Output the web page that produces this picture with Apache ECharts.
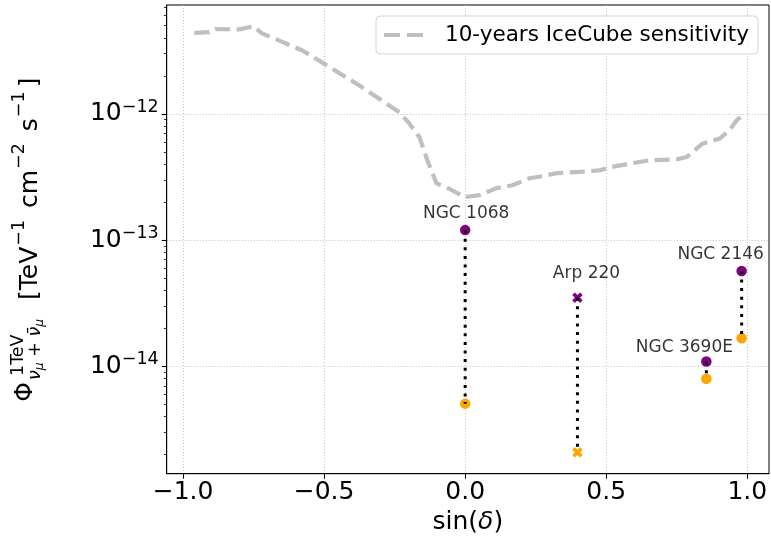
<!DOCTYPE html>
<html><head><meta charset="utf-8">
<script src="https://cdn.jsdelivr.net/npm/echarts@6/dist/echarts.min.js"></script>
<style>html,body{margin:0;padding:0;background:#fff}#c{width:771px;height:541px}</style>
</head><body><div id="c"></div>
<script>
// ---- data ----
const curveSinDec = [-0.960,-0.907,-0.885,-0.800,-0.751,-0.722,-0.659,-0.577,-0.499,-0.375,-0.233,-0.198,-0.162,-0.134,-0.102,-0.066,-0.002,0.051,0.111,0.168,0.228,0.274,0.324,0.405,0.476,0.512,0.583,0.654,0.749,0.785,0.841,0.902,0.937,0.962,0.976];
const curveFlux = [4.39e-12,4.45e-12,4.70e-12,4.68e-12,4.94e-12,4.37e-12,3.81e-12,3.18e-12,2.49e-12,1.68e-12,1.03e-12,8.41e-13,6.52e-13,4.29e-13,2.82e-13,2.62e-13,2.19e-13,2.27e-13,2.58e-13,2.72e-13,3.09e-13,3.21e-13,3.39e-13,3.47e-13,3.57e-13,3.77e-13,4.04e-13,4.29e-13,4.36e-13,4.55e-13,5.81e-13,6.37e-13,7.41e-13,8.88e-13,9.44e-13];
const sourceNames = ['NGC 1068','Arp 220','NGC 3690E','NGC 2146'];
const sourceSinDec = [0.0, 0.398, 0.855, 0.980];
const fluxUpper = [1.2e-13, 3.5e-14, 1.09e-14, 5.7e-14];
const fluxLower = [5.06e-15, 2.08e-15, 7.96e-15, 1.67e-14];
const xTickValues = [-1.0, -0.5, 0.0, 0.5, 1.0];
const yTickValues = [1e-14, 1e-13, 1e-12];
const legendLabel = '10-years IceCube sensitivity';

// ---- styling / layout ----
const FONT = 'DejaVu Sans';
const xMin = -1.058, xMax = 1.077;
const yMin = Math.pow(10, -14.851), yMax = Math.pow(10, -11.137);
const labelOffsets = {'NGC 1068':[1,-17], 'Arp 220':[9,-24], 'NGC 3690E':[-22,-14], 'NGC 2146':[-21,-16]};
const X_PATH = 'path://M-1,-0.5 L-0.5,-1 L0,-0.5 L0.5,-1 L1,-0.5 L0.5,0 L1,0.5 L0.5,1 L0,0.5 L-0.5,1 L-1,0.5 L-0.5,0 Z';
const markerOf = {'Arp 220': X_PATH};

const minorTicks = [];
for (let e = -15; e <= -12; e++) for (let m = 2; m <= 9; m++) {
  const v = m * Math.pow(10, e);
  if (v > yMin && v < yMax) minorTicks.push(v);
}

const series = [{
  name: legendLabel, type: 'line', symbol: 'none', z: 2,
  data: curveSinDec.map((x, i) => [x, curveFlux[i]]),
  lineStyle: {color: '#bfbfbf', width: 4.2, type: [15, 6.5], cap: 'butt'},
  itemStyle: {color: '#bfbfbf'}
}];
sourceNames.forEach((n, i) => {
  series.push({
    type: 'line', symbol: 'none', z: 5, silent: true,
    data: [[sourceSinDec[i], fluxUpper[i]], [sourceSinDec[i], fluxLower[i]]],
    lineStyle: {color: '#000', width: 3, type: [3, 5.6], cap: 'butt'}
  });
});
const mkPts = vals => sourceNames.map((n, i) => ({
  name: n, value: [sourceSinDec[i], vals[i]], symbol: markerOf[n] || 'circle'
}));
series.push({type: 'scatter', z: 3, symbolSize: 10.5, itemStyle: {color: '#800080', opacity: 1}, data: mkPts(fluxUpper)});
series.push({type: 'scatter', z: 3, symbolSize: 10.5, itemStyle: {color: '#ffa500', opacity: 1}, data: mkPts(fluxLower)});
// text labels of the sources
series.push({
  type: 'scatter', z: 6, symbol: 'circle', symbolSize: 1, silent: true,
  itemStyle: {color: 'rgba(0,0,0,0)'},
  data: sourceNames.map((n, i) => ({
    name: n, value: [sourceSinDec[i], fluxUpper[i]],
    label: {show: true, position: 'inside', offset: labelOffsets[n], formatter: '{b}',
      color: '#000', fontFamily: FONT, fontSize: 17}
  }))
});

const gridLine = {show: true, lineStyle: {color: '#b0b0b0', width: 0.8, type: [1, 2]}};

const option = {
  animation: false,
  backgroundColor: '#fff',
  grid: {left: 166.7, top: 5, right: 2, bottom: 67.3, show: true, borderColor: '#000', borderWidth: 1, backgroundColor: 'transparent'},
  legend: {
    data: [{name: legendLabel, icon: 'path://M0,0 H16 V4 H0 Z M23,0 H39 V4 H23 Z'}],
    left: 376, top: 16, orient: 'vertical',
    itemWidth: 39, itemHeight: 4.2, padding: [8, 9, 8, 8],
    borderColor: '#d5d5d5', borderWidth: 1, borderRadius: 4, backgroundColor: 'rgba(255,255,255,0.8)',
    itemStyle: {color: '#bfbfbf'},
    textStyle: {fontFamily: FONT, fontSize: 21.5, color: '#000', padding: [0, 0, 0, 17]}
  },
  xAxis: {
    type: 'value', min: xMin, max: xMax,
    axisLine: {show: true, onZero: false, lineStyle: {color: '#000', width: 1}},
    axisTick: {show: true, length: 5, lineStyle: {color: '#000', width: 1.1}, customValues: xTickValues},
    axisLabel: {customValues: xTickValues, margin: 6, color: '#000', fontFamily: FONT, fontSize: 25,
      formatter: v => v.toFixed(1).replace('-', '\u2212')},
    splitLine: gridLine,
    name: '{n|sin(}{i|δ}{n|)}', nameLocation: 'middle', nameGap: 34,
    nameTextStyle: {rich: {n: {fontFamily: FONT, fontSize: 25, color: '#000'}, i: {fontFamily: FONT, fontStyle: 'italic', fontSize: 25, color: '#000'}}}
  },
  yAxis: [{
    type: 'log', logBase: 10, min: yMin, max: yMax,
    axisLine: {show: true, onZero: false, lineStyle: {color: '#000', width: 1}},
    axisTick: {show: true, length: 5, lineStyle: {color: '#000', width: 1.1}, customValues: yTickValues},
    axisLabel: {customValues: yTickValues, margin: 8, color: '#000',
      formatter: v => '{b|10}{s|\u2212' + Math.abs(Math.round(Math.log10(v))) + '}',
      rich: {b: {fontFamily: FONT, fontSize: 25, lineHeight: 31, color: '#000'},
             s: {fontFamily: FONT, fontSize: 17.5, lineHeight: 17.5, verticalAlign: 'top', color: '#000'}}},
    splitLine: gridLine
  }, {
    type: 'log', logBase: 10, min: yMin, max: yMax, position: 'left',
    axisLine: {show: false, onZero: false}, axisLabel: {show: false}, splitLine: {show: false},
    axisTick: {show: true, length: 2.8, lineStyle: {color: '#000', width: 0.8}, customValues: minorTicks}
  }],
  graphic: [{
    type: 'group', x: 0, y: 402, rotation: Math.PI / 2,
    children: [
      {type: 'text', x: 10, y: 25, style: {text: 'Φ', font: '25px "DejaVu Sans"', fill: '#000', align: 'center', verticalAlign: 'middle'}},
      {type: 'text', x: 26, y: 18.4, style: {text: '1TeV', font: '17.5px "DejaVu Sans"', fill: '#000', align: 'left', verticalAlign: 'middle'}},
      {type: 'text', x: 22, y: 35, style: {text: '{g|ν}{m|μ}{g| + ν̄}{m|μ}', align: 'left', verticalAlign: 'middle',
        rich: {g: {fontFamily: FONT, fontStyle: 'italic', fontSize: 17.5, lineHeight: 22, fill: '#000'},
               m: {fontFamily: FONT, fontStyle: 'italic', fontSize: 12.3, lineHeight: 12.3, verticalAlign: 'bottom', fill: '#000'}}}},
      {type: 'text', x: 102, y: 30, style: {text: '{b|[TeV}{s|\u22121}{b| cm}{s|\u22122}{b| s}{s|\u22121}{b|]}', align: 'left', verticalAlign: 'middle',
        rich: {b: {fontFamily: FONT, fontSize: 25, lineHeight: 38.5, fill: '#000'},
               s: {fontFamily: FONT, fontSize: 17.5, lineHeight: 17.5, verticalAlign: 'top', padding: [0, 4, 0, 1], fill: '#000'}}}}
    ]
  }],
  series: series
};
const chart = echarts.init(document.getElementById('c'), null, {renderer: 'canvas'});
chart.setOption(option);
</script></body></html>
